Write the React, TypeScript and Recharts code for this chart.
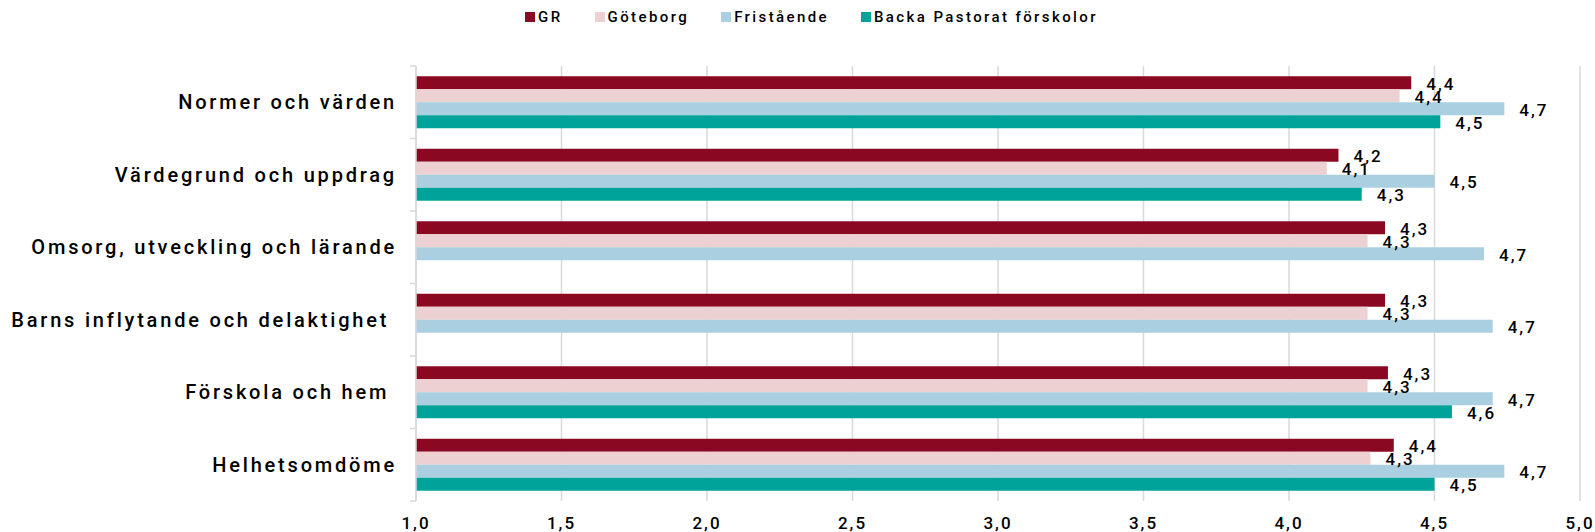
import React from "react";
import {
  BarChart,
  Bar,
  XAxis,
  YAxis,
  CartesianGrid,
  LabelList,
} from "recharts";

const categories = [
  "Normer och värden",
  "Värdegrund och uppdrag",
  "Omsorg, utveckling och lärande",
  "Barns inflytande och delaktighet ",
  "Förskola och hem ",
  "Helhetsomdöme",
];

const grValues = [4.42, 4.17, 4.33, 4.33, 4.34, 4.36];
const goteborgValues = [4.38, 4.13, 4.27, 4.27, 4.27, 4.28];
const fristaendeValues = [4.74, 4.5, 4.67, 4.7, 4.7, 4.74];
const backaValues = [4.52, 4.25, null, null, 4.56, 4.5];

const xTicks = [1, 1.5, 2, 2.5, 3, 3.5, 4, 4.5, 5];

const series = [
  { key: "gr", name: "GR", color: "#8B0823" },
  { key: "goteborg", name: "Göteborg", color: "#EDD0D1" },
  { key: "fristaende", name: "Fristående", color: "#A9CFE0" },
  { key: "backa", name: "Backa Pastorat förskolor", color: "#00A39A" },
];

const data = categories.map((name, i) => ({
  name,
  gr: grValues[i],
  goteborg: goteborgValues[i],
  fristaende: fristaendeValues[i],
  backa: backaValues[i],
}));

const FONT = "Roboto, 'Liberation Sans', sans-serif";
const fmt = (v: number) => v.toFixed(1).replace(".", ",");

const ValueLabel = (props: any) => {
  const { x, y, width, height, value } = props;
  if (value == null) return null;
  return (
    <text
      x={x + width + 15}
      y={y + height / 2 + 1}
      dominantBaseline="central"
      textAnchor="start"
      fontFamily={FONT}
      fontWeight={500}
      fontSize={17}
      letterSpacing={2}
      fill="#000"
    >
      {fmt(value)}
    </text>
  );
};

const CategoryTick = (props: any) => {
  const { x, y, payload, index, visibleTicksCount } = props;
  const half = payload?.offset || 36;
  const axisX = x + 19;
  const last = index === (visibleTicksCount ?? 6) - 1;
  return (
    <g>
      <line x1={axisX - 6} x2={axisX} y1={y - half} y2={y - half} stroke="#d9d9d9" strokeWidth={1.5} />
      {last && (
        <line x1={axisX - 6} x2={axisX} y1={y + half} y2={y + half} stroke="#d9d9d9" strokeWidth={1.5} />
      )}
      <text
        x={x}
        y={y}
        dominantBaseline="central"
        textAnchor="end"
        fontFamily={FONT}
        fontWeight={500}
        fontSize={20}
        letterSpacing={2.8}
        fill="#000"
        style={{ whiteSpace: "pre" }}
      >
        {payload.value}
      </text>
    </g>
  );
};

function LegendRow() {
  return (
    <div
      style={{
        position: "absolute",
        top: 8,
        left: 0,
        width: 1595,
        display: "flex",
        justifyContent: "center",
        gap: 32,
        fontFamily: FONT,
        fontWeight: 500,
        fontSize: 15,
        letterSpacing: 2.4,
        color: "#000",
        paddingLeft: 28,
        boxSizing: "border-box",
      }}
    >
      {series.map((s) => (
        <div key={s.key} style={{ display: "flex", alignItems: "center", gap: 3 }}>
          <span style={{ width: 10, height: 10, background: s.color, display: "inline-block" }} />
          <span>{s.name}</span>
        </div>
      ))}
    </div>
  );
}

export default function App() {
  return (
    <div style={{ position: "absolute", left: 0, top: 0, width: 1595, height: 532, background: "#fff" }}>
      <LegendRow />
      <BarChart
        width={1595}
        height={532}
        data={data}
        layout="vertical"
        margin={{ top: 66, right: 15, bottom: 0, left: 0 }}
        barCategoryGap="14%"
        barGap={0}
      >
        <CartesianGrid horizontal={false} stroke="#d9d9d9" strokeWidth={1.5} />
        <XAxis
          type="number"
          domain={[1, 5]}
          ticks={xTicks}
          tickFormatter={fmt}
          axisLine={false}
          tickLine={false}
          height={31}
          tickMargin={10}
          tick={{ fontFamily: FONT, fontWeight: 500, fontSize: 17, letterSpacing: 2, fill: "#000" }}
          interval={0}
        />
        <YAxis
          type="category"
          dataKey="name"
          width={416}
          axisLine={{ stroke: "#d9d9d9", strokeWidth: 1.5 }}
          tickLine={false}
          tickSize={0}
          tickMargin={19}
          tick={<CategoryTick />}
          interval={0}
        />
        {series.map((s) => (
          <Bar key={s.key} dataKey={s.key} name={s.name} fill={s.color} isAnimationActive={false}>
            <LabelList dataKey={s.key} content={<ValueLabel />} />
          </Bar>
        ))}
      </BarChart>
    </div>
  );
}
